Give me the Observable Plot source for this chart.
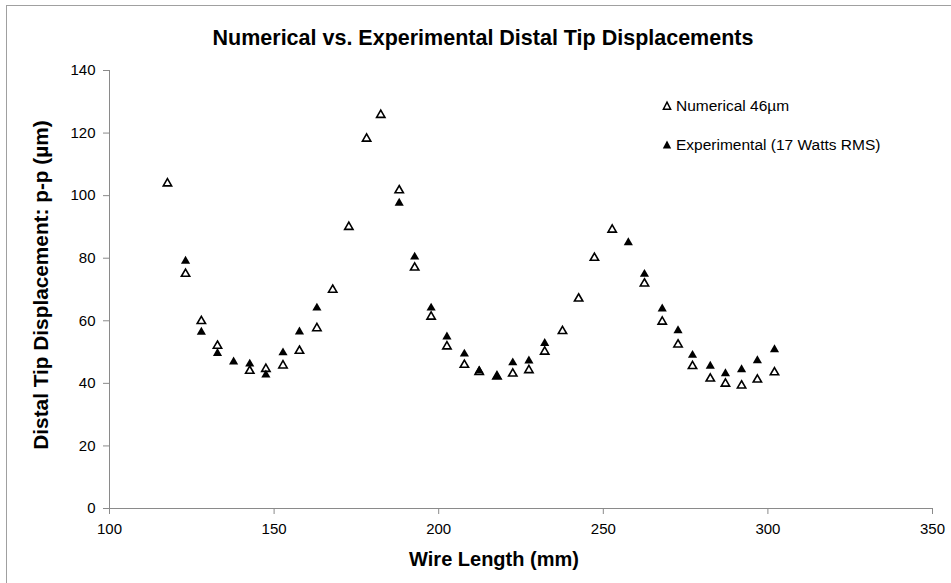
<!DOCTYPE html>
<html>
<head>
<meta charset="utf-8">
<script src="https://cdn.jsdelivr.net/npm/d3@7"></script>
<script src="https://cdn.jsdelivr.net/npm/@observablehq/plot@0.6"></script>
<style>
  html, body { margin: 0; padding: 0; background: #fff; }
  #wrap { position: relative; width: 951px; height: 583px; overflow: hidden; font-family: "Liberation Sans", Arial, sans-serif; }
  #frame { position: absolute; left: 6px; top: 5px; width: 960px; height: 600px; border-left: 1px solid #a0a0a0; border-top: 1px solid #a0a0a0; }
  #chart { position: absolute; left: 0; top: 0; }
  .title { position: absolute; left: 483px; top: 26px; transform: translateX(-50%); font-weight: bold; font-size: 21.5px; white-space: nowrap; color: #000; }
  .xlabel { position: absolute; left: 494px; top: 548px; transform: translateX(-50%); font-weight: bold; font-size: 20px; white-space: nowrap; color: #000; }
  .ylabel { position: absolute; left: 41px; top: 285px; transform: translate(-50%, -50%) rotate(-90deg); font-weight: bold; font-size: 20.8px; white-space: nowrap; color: #000; }
  .legend { position: absolute; left: 661px; font-size: 15.5px; white-space: nowrap; color: #000; display: flex; align-items: center; }
  .legend svg { margin-right: 3px; }
  #chart svg g[aria-label="x-axis tick"] path, #chart svg g[aria-label="y-axis tick"] path { stroke: #8a8a8a; }
</style>
</head>
<body>
<div id="wrap">
  <div id="frame"></div>
  <div id="chart"></div>
  <div class="title">Numerical vs. Experimental Distal Tip Displacements</div>
  <div class="xlabel">Wire Length (mm)</div>
  <div class="ylabel">Distal Tip Displacement: p-p (µm)</div>
  <div class="legend" style="top:97px"><svg width="12" height="12"><path d="M6,2.2L9.6,9.2L2.4,9.2Z" fill="#fff" stroke="#000" stroke-width="1.5"/></svg>Numerical 46µm</div>
  <div class="legend" style="top:136px"><svg width="12" height="12"><path d="M6,1.5L10.2,9.5L1.8,9.5Z" fill="#000"/></svg>Experimental (17 Watts RMS)</div>
</div>
<script>
// Numerical 46µm (open triangles)
const numX = [117.6, 123.1, 127.9, 132.8, 142.6, 147.5, 152.7, 157.7, 163.0, 167.8, 172.7, 178.1, 182.4, 188.0, 192.7, 197.7, 202.5, 207.8, 212.3, 217.7, 222.5, 227.4, 232.2, 237.6, 242.5, 247.3, 252.7, 262.5, 267.9, 272.7, 277.1, 282.5, 287.1, 292.0, 296.8, 302.0];
const numY = [103.9, 75.0, 59.9, 52.0, 44.0, 44.6, 45.7, 50.4, 57.6, 69.9, 90.0, 118.2, 125.8, 101.7, 77.0, 61.3, 51.8, 45.9, 43.6, 42.2, 43.1, 44.2, 50.1, 56.7, 67.1, 80.1, 89.1, 71.9, 59.7, 52.4, 45.5, 41.5, 39.9, 39.3, 41.2, 43.5];
// Experimental (17 Watts RMS) (filled triangles)
const expX = [123.1, 127.9, 132.8, 137.7, 142.6, 147.5, 152.7, 157.7, 163.0, 188.0, 192.7, 197.7, 202.5, 207.8, 212.3, 217.7, 222.5, 227.4, 232.2, 257.6, 262.5, 267.9, 272.7, 277.1, 282.5, 287.1, 292.0, 296.8, 302.0];
const expY = [79.1, 56.4, 49.6, 46.9, 46.2, 42.7, 49.8, 56.5, 64.1, 97.6, 80.4, 64.1, 54.9, 49.4, 44.0, 42.2, 46.6, 47.2, 52.8, 85.0, 74.9, 63.8, 56.9, 49.0, 45.5, 43.1, 44.4, 47.3, 50.8];
const xTicks = [100, 150, 200, 250, 300, 350];
const yTicks = [0, 20, 40, 60, 80, 100, 120, 140];

const numData = numX.map((x, i) => ({x, y: numY[i]}));
const expData = expX.map((x, i) => ({x, y: expY[i]}));

const chart = Plot.plot({
  width: 951,
  height: 583,
  marginLeft: 109,
  marginRight: 19,
  marginTop: 70,
  marginBottom: 75,
  style: {fontFamily: "'Liberation Sans', Arial, sans-serif", fontSize: "15px", color: "#000", background: "transparent"},
  x: {domain: [100, 350]},
  y: {domain: [0, 140]},
  marks: [
    Plot.axisX({ticks: xTicks, tickSize: 6, tickPadding: 9, label: null}),
    Plot.axisY({ticks: yTicks, tickSize: 6, tickPadding: 8, label: null}),
    Plot.ruleY([0], {stroke: "#8a8a8a", strokeWidth: 1}),
    Plot.ruleX([100], {stroke: "#8a8a8a", strokeWidth: 1}),
    Plot.dot(numData, {x: "x", y: "y", symbol: "triangle", r: 3.1, fill: "#fff", stroke: "#000", strokeWidth: 1.6}),
    Plot.dot(expData, {x: "x", y: "y", symbol: "triangle", r: 3.4, fill: "#000", stroke: "none"})
  ]
});
document.getElementById("chart").appendChild(chart);
</script>
</body>
</html>
